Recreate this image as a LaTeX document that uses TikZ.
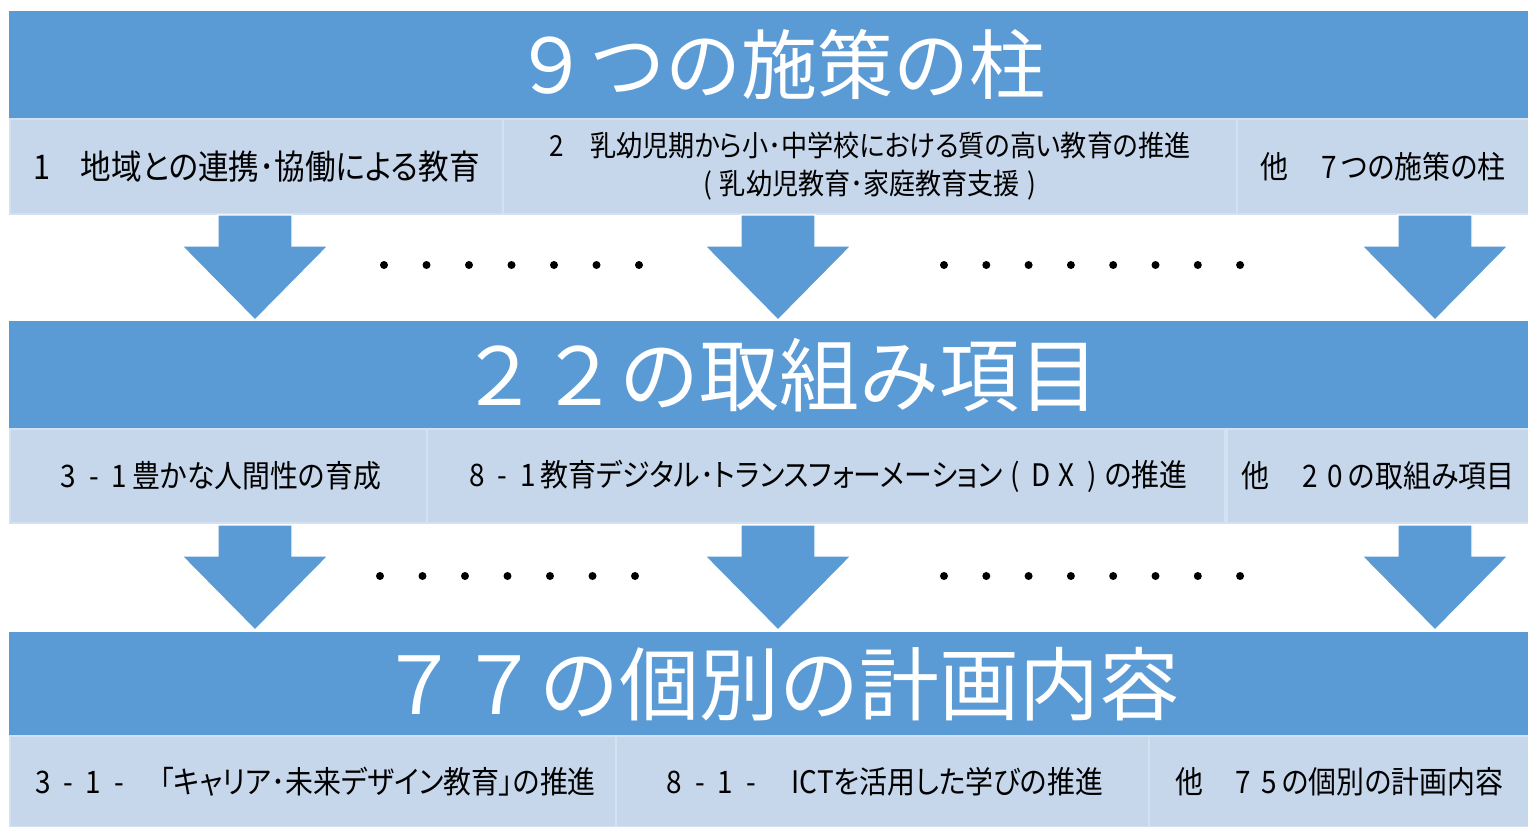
\documentclass[tikz,border=0pt]{standalone}
\usepackage{fontspec}
\newfontfamily\jptitle{Noto Sans CJK JP}
\newfontfamily\jpcellfont[FakeStretch=0.9,RawFeature=+palt]{Noto Sans CJK JP}
\newcommand{\jpcell}{\jpcellfont\fontsize{15.5pt}{19pt}\selectfont}
\newcommand{\jpbig}{\jptitle\fontsize{38pt}{40pt}\selectfont}
\newcommand{\fwd}[1]{\makebox[0.82em]{#1}}
\definecolor{barblue}{HTML}{5B9BD5}
\definecolor{cellblue}{HTML}{C6D6EB}
\definecolor{celledge}{HTML}{D4E1F2}
\begin{document}
\begin{tikzpicture}[x=0.5pt,y=-0.5pt,
    banner/.style={fill=barblue, text=white, inner sep=0pt, minimum width=759.5pt, anchor=north west, font=\jpbig,
        execute at begin node=\hspace*{11pt}},
    cell/.style={fill=cellblue, draw=celledge, line width=1pt, inner sep=0pt, anchor=north west, align=center, font=\jpcell},
    flow/.style={fill=barblue, draw=white, line width=0.6pt}]
    \useasboundingbox (0,0) rectangle (1528,826);

    % pillars
    \node[banner, minimum height=53.5pt] (pillars) at (9,11) {９つの施策の柱};
    \node[cell, minimum width=246.5pt, minimum height=47.5pt, font=\jpcellfont\fontsize{17pt}{19pt}\selectfont] (p1) at (9,118) {1　地域との連携･協働による教育};
    \node[cell, minimum width=367pt, minimum height=47.5pt, font=\jpcellfont\fontsize{14.5pt}{19pt}\selectfont] (p2) at (502,118)
        {2　乳幼児期から小･中学校における質の高い教育の推進\\\fwd{(}乳幼児教育･家庭教育支援\fwd{)}};
    \node[cell, minimum width=146pt, minimum height=47.5pt] (p3) at (1236,118) {他　\fwd{7}つの施策の柱};

    % items
    \node[banner, minimum height=53.5pt, font=\jptitle\fontsize{40pt}{42pt}\selectfont] (items) at (9,321) {２２の取組み項目};
    \node[cell, minimum width=208.5pt, minimum height=47pt] (i1) at (9,428) {\fwd{3}\fwd{-}\fwd{1}豊かな人間性の育成};
    \node[cell, minimum width=399pt, minimum height=47pt] (i2) at (426,428)
        {\fwd{8}\fwd{-}\fwd{1}教育デジタル･トランスフォーメーション\fwd{(}\fwd{D}\fwd{X}\fwd{)}の推進};
    \node[cell, minimum width=151pt, minimum height=47pt] (i3) at (1226,428) {他　\fwd{2}\fwd{0}の取組み項目};

    % plans
    \node[banner, minimum height=51.5pt, font=\jptitle\fontsize{40pt}{42pt}\selectfont] (plans) at (9,632) {７７の個別の計画内容};
    \node[cell, minimum width=303pt, minimum height=45.5pt] (c1) at (9,735) {\fwd{3}\fwd{-}\fwd{1}\fwd{-}　「キャリア･未来デザイン教育」の推進};
    \node[cell, minimum width=266.5pt, minimum height=45.5pt] (c2) at (615,735) {\fwd{8}\fwd{-}\fwd{1}\fwd{-}　ICTを活用した学びの推進};
    \node[cell, minimum width=190pt, minimum height=45.5pt] (c3) at (1148,735) {他　\fwd{7}\fwd{5}の個別の計画内容};

    % block arrows
    \foreach \ay in {215,525}
        \foreach \ax in {255,778,1435}
            \draw[flow] ({\ax-37},\ay) -- ({\ax+37},\ay) -- ({\ax+37},\ay+31) -- ({\ax+73},\ay+31)
                -- (\ax,\ay+105) -- ({\ax-73},\ay+31) -- ({\ax-37},\ay+31) -- cycle;

    % leader dots
    \foreach \dx in {0,...,6} {
        \fill ({384+42.5*\dx},265) circle (2pt);
        \fill ({380+42.5*\dx},576) circle (2pt);
    }
    \foreach \dx in {0,...,7} {
        \fill ({944+42.3*\dx},265) circle (2pt);
        \fill ({944+42.3*\dx},576) circle (2pt);
    }
\end{tikzpicture}
\end{document}
